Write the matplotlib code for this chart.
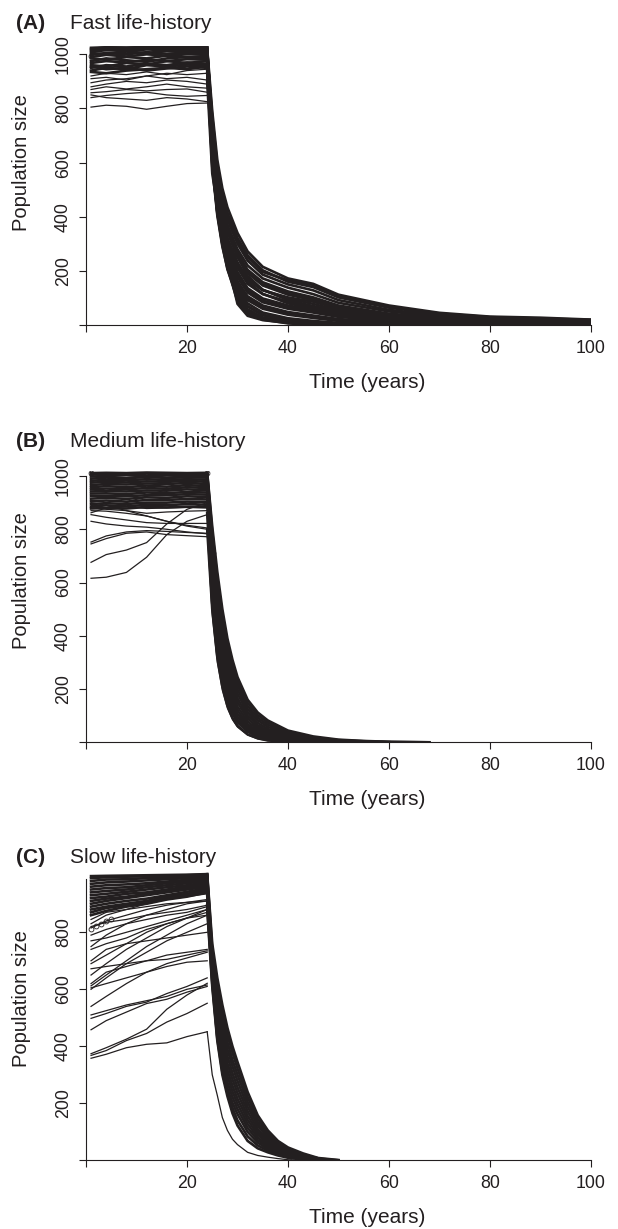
import matplotlib
matplotlib.use('Agg')
import matplotlib.pyplot as plt

plt.rcParams['font.family'] = ['Liberation Sans', 'DejaVu Sans']

INK = '#231f20'

# knot times (years)
t_pre = [1, 4, 8, 12, 16, 20, 24]
t_post_a = [24, 25, 26, 27, 28, 30, 32, 35, 40, 45, 50, 60, 70, 80, 90, 100]
t_post_b = [24, 25, 26, 27, 28, 29, 30, 32, 34, 36, 40, 45, 50, 55, 60, 68]
t_post_c = [24, 25, 26, 27, 28, 29, 30, 32, 34, 36, 38, 40, 43, 46, 50]

# (A) fast life-history, before the decline: scattered runs, then the dense band
pre_a_spread = [
    [805, 812, 808, 797, 808, 818, 820],
    [850, 840, 835, 830, 840, 835, 825],
    [840, 848, 855, 860, 850, 845, 848],
    [858, 862, 870, 865, 870, 872, 860],
    [870, 880, 872, 880, 890, 880, 875],
    [880, 890, 900, 895, 905, 900, 890],
    [895, 905, 910, 920, 910, 915, 905],
    [910, 915, 905, 920, 930, 925, 930],
    [920, 930, 925, 935, 925, 940, 945],
]
pre_a_band = [
    [935, 930, 940, 945, 950, 945, 955],
    [955, 945, 950, 940, 948, 955, 950],
    [940, 950, 945, 960, 955, 962, 960],
    [950, 960, 955, 965, 960, 970, 965],
    [960, 955, 968, 962, 975, 968, 975],
    [968, 975, 970, 980, 975, 982, 980],
    [975, 985, 978, 972, 985, 990, 985],
    [985, 980, 990, 985, 995, 988, 992],
    [990, 998, 992, 1000, 995, 1000, 998],
    [998, 1005, 1000, 1008, 1002, 1006, 1004],
    [1005, 1000, 1010, 1005, 1012, 1008, 1010],
    [1010, 1015, 1012, 1018, 1015, 1016, 1014],
    [1015, 1020, 1018, 1022, 1020, 1024, 1020],
    [1020, 1025, 1024, 1026, 1025, 1026, 1025],
    [1024, 1026, 1025, 1027, 1026, 1027, 1026],
]

# (A) after the decline starts
post_a = [
    [1020, 790, 610, 505, 435, 340, 272, 215, 172, 152, 112, 72, 45, 31, 27, 20],
    [1010, 770, 590, 485, 415, 322, 258, 202, 160, 140, 102, 64, 40, 28, 23, 18],
    [1000, 760, 575, 470, 400, 310, 250, 196, 165, 148, 108, 68, 42, 29, 24, 19],
    [1000, 745, 565, 460, 390, 300, 238, 186, 150, 128, 92, 56, 35, 25, 19, 15],
    [990, 725, 545, 440, 370, 280, 220, 172, 138, 114, 82, 50, 31, 21, 16, 12],
    [1015, 735, 550, 442, 368, 268, 204, 158, 124, 102, 72, 42, 26, 18, 13, 10],
    [940, 645, 472, 372, 302, 222, 166, 128, 102, 86, 60, 35, 20, 12, 9, 7],
    [980, 705, 520, 414, 342, 252, 192, 146, 112, 92, 64, 36, 22, 15, 11, 8],
    [1025, 705, 522, 422, 352, 252, 182, 130, 92, 70, 50, 28, 16, 10, 7, 5],
    [1005, 705, 510, 398, 322, 232, 172, 130, 98, 78, 54, 30, 18, 12, 8, 6],
    [960, 675, 485, 378, 302, 212, 152, 114, 86, 66, 46, 26, 15, 9, 6, 5],
    [985, 690, 500, 390, 315, 222, 160, 115, 80, 60, 40, 18, 9, 5, 3, 2],
    [1020, 695, 490, 372, 292, 196, 136, 98, 72, 56, 38, 20, 11, 7, 4, 3],
    [970, 655, 458, 346, 270, 176, 120, 84, 60, 46, 30, 15, 8, 4, 2, 1],
    [990, 655, 452, 336, 256, 162, 106, 72, 48, 35, 22, 10, 5, 2, 1, 0],
    [950, 625, 432, 316, 240, 146, 92, 60, 38, 26, 15, 6, 2, 0],
    [1000, 645, 442, 320, 236, 136, 80, 46, 25, 15, 8, 2, 0],
    [930, 605, 418, 302, 222, 122, 68, 36, 18, 10, 4, 0],
    [980, 615, 422, 302, 216, 112, 58, 28, 12, 5, 0],
    [1010, 625, 432, 312, 216, 96, 45, 20, 6, 1, 0],
    [960, 595, 412, 296, 206, 100, 52, 25, 10, 2, 0],
    [900, 560, 440, 335, 235, 78, 34, 18, 8, 3, 0],
    [1015, 720, 530, 425, 350, 260, 200, 150, 118, 96, 68, 38, 24, 16, 12, 9],
    [995, 680, 470, 355, 280, 186, 128, 90, 66, 50, 34, 17, 9, 5, 3, 2],
    [975, 640, 440, 325, 248, 152, 98, 64, 42, 30, 18, 8, 3, 1, 0],
    [1000, 600, 420, 310, 225, 105, 55, 25, 8, 2, 0],
    [970, 620, 430, 315, 228, 125, 70, 38, 18, 8, 3, 0],
    [945, 585, 405, 290, 210, 88, 42, 22, 12, 5, 1, 0],
]

# (B) medium life-history
pre_b_spread = [
    [616, 620, 638, 695, 780, 830, 855],
    [676, 705, 722, 750, 820, 875, 900],
    [745, 765, 785, 790, 780, 776, 772],
    [752, 775, 790, 795, 792, 788, 785],
    [830, 820, 812, 808, 800, 790, 783],
    [855, 845, 835, 825, 822, 822, 822],
    [870, 868, 860, 850, 830, 812, 800],
    [880, 875, 870, 860, 865, 868, 870],
    [900, 890, 870, 850, 830, 815, 805],
    [862, 880, 900, 925, 950, 970, 985],
    [890, 880, 885, 878, 880, 882, 880],
]
pre_b_band = [
    [878, 880, 878, 884, 882, 885, 884],
    [885, 890, 886, 892, 890, 895, 892],
    [895, 898, 895, 900, 900, 904, 902],
    [905, 908, 904, 910, 910, 914, 912],
    [915, 918, 914, 920, 918, 924, 921],
    [925, 926, 924, 928, 928, 932, 930],
    [934, 935, 932, 938, 936, 940, 938],
    [942, 944, 942, 946, 945, 950, 946],
    [950, 953, 950, 955, 952, 958, 955],
    [958, 962, 958, 964, 960, 966, 962],
    [966, 970, 968, 972, 970, 974, 970],
    [975, 978, 976, 980, 978, 982, 978],
    [982, 986, 984, 988, 985, 988, 986],
    [990, 994, 992, 996, 993, 995, 994],
    [998, 1000, 1003, 999, 1002, 1000, 1001],
    [1005, 1008, 1006, 1009, 1007, 1008, 1006],
    [1011, 1012, 1011, 1013, 1012, 1011, 1012],
]

post_b = [
    [1012, 810, 640, 500, 390, 310, 245, 160, 112, 82, 44, 22, 10, 5, 2, 0],
    [1010, 790, 615, 480, 372, 292, 230, 148, 102, 74, 39, 18, 8, 4, 1, 0],
    [1005, 770, 590, 455, 352, 275, 214, 136, 92, 66, 34, 15, 6, 3, 1],
    [1000, 750, 565, 430, 330, 256, 198, 124, 83, 58, 29, 12, 5, 2],
    [995, 725, 540, 405, 308, 236, 182, 112, 73, 50, 24, 10, 3, 1],
    [990, 700, 512, 380, 286, 216, 165, 100, 64, 43, 20, 8, 2, 0],
    [985, 675, 485, 355, 265, 198, 150, 89, 56, 37, 16, 6, 1],
    [975, 650, 458, 330, 244, 180, 134, 78, 48, 31, 13, 4, 0],
    [965, 625, 432, 307, 224, 163, 120, 68, 41, 26, 10, 3],
    [950, 600, 405, 284, 205, 148, 107, 60, 35, 21, 8, 2],
    [930, 575, 380, 262, 187, 133, 95, 52, 29, 17, 6, 1],
    [900, 545, 355, 242, 170, 120, 84, 45, 25, 14, 4, 0],
    [860, 520, 335, 225, 155, 108, 75, 40, 21, 11, 3, 0],
    [800, 500, 320, 210, 138, 92, 62, 30, 15, 7, 2, 0],
]
post_b_low = [
    [790, 480, 300, 195, 128, 85, 57, 27, 13, 6, 1, 0],
]

# (C) slow life-history
pre_c_spread = [
    [358, 372, 395, 407, 412, 434, 451],
    [368, 385, 420, 445, 485, 515, 551],
    [374, 395, 425, 460, 530, 580, 621],
    [458, 490, 520, 550, 565, 590, 610],
    [498, 515, 540, 555, 585, 610, 640],
    [510, 525, 545, 560, 575, 600, 615],
    [540, 575, 620, 660, 690, 710, 730],
    [600, 640, 690, 730, 770, 800, 830],
    [605, 620, 640, 660, 680, 695, 700],
    [612, 650, 700, 750, 790, 830, 860],
    [620, 660, 680, 700, 720, 730, 740],
    [650, 690, 740, 780, 820, 850, 870],
    [672, 680, 690, 700, 705, 720, 735],
    [690, 720, 760, 800, 830, 850, 880],
    [700, 740, 760, 770, 780, 790, 800],
    [740, 760, 780, 810, 830, 850, 860],
    [750, 790, 830, 860, 880, 900, 910],
    [770, 780, 800, 820, 840, 860, 880],
    [790, 810, 830, 845, 860, 870, 890],
    [815, 840, 860, 880, 895, 905, 910],
    [820, 835, 845, 860, 870, 880, 895],
    [830, 860, 880, 900, 915, 925, 935],
    [845, 870, 880, 890, 900, 905, 915],
]
pre_c_band = [
    [860, 875, 890, 900, 915, 925, 940],
    [870, 885, 895, 905, 920, 930, 945],
    [880, 890, 900, 910, 925, 935, 950],
    [890, 900, 910, 918, 930, 942, 955],
    [900, 910, 920, 930, 940, 950, 960],
    [910, 918, 925, 935, 945, 955, 965],
    [920, 925, 935, 940, 950, 960, 970],
    [930, 935, 942, 950, 958, 965, 975],
    [940, 945, 950, 958, 965, 972, 980],
    [950, 955, 958, 965, 972, 978, 985],
    [960, 965, 968, 972, 978, 984, 990],
    [970, 975, 978, 982, 986, 990, 995],
    [980, 985, 986, 990, 992, 995, 998],
    [990, 993, 995, 996, 998, 1000, 1002],
    [997, 998, 999, 1000, 1001, 1002, 1004],
]

post_c = [
    [1004, 760, 640, 545, 465, 400, 345, 240, 158, 105, 68, 45, 24, 8, 1],
    [1000, 740, 615, 520, 440, 378, 322, 222, 145, 96, 62, 40, 20, 6, 0],
    [995, 720, 590, 495, 415, 352, 300, 205, 133, 88, 56, 36, 17, 5],
    [990, 700, 565, 468, 390, 330, 278, 188, 122, 80, 50, 32, 14, 4],
    [980, 690, 540, 440, 365, 306, 256, 172, 110, 72, 45, 28, 12, 3],
    [970, 675, 515, 415, 340, 284, 236, 156, 100, 65, 40, 24, 10, 2],
    [960, 660, 492, 390, 317, 262, 216, 142, 90, 58, 35, 21, 8, 1],
    [950, 650, 470, 365, 295, 242, 198, 128, 80, 52, 31, 18, 7, 1],
    [930, 640, 452, 342, 273, 222, 180, 114, 71, 46, 27, 15, 6, 0],
    [910, 630, 436, 322, 252, 202, 162, 100, 62, 40, 24, 13, 5],
    [895, 620, 428, 310, 238, 184, 140, 84, 52, 34, 20, 11, 4],
    [880, 610, 420, 300, 225, 165, 122, 68, 42, 28, 17, 9, 3, 0],
]
post_c_low = [
    [451, 300, 228, 150, 105, 74, 55, 28, 17, 11, 6, 2, 0],
]

# open circles (extinctions / starts)
circ_a_t = [1, 44, 45.5, 47, 48.5, 50]
circ_a_v = [995, 2, 2, 2, 2, 2]
circ_b_t = [1, 24, 25.2, 42, 43.5, 45, 46.5, 48]
circ_b_v = [1012, 1012, 710, 2, 2, 2, 2, 2]
circ_c_t = [1, 2, 3, 4, 5, 41, 42.5, 44, 45.5]
circ_c_v = [812, 822, 830, 838, 846, 3, 3, 3, 3]

W, H = 618, 1229


def rect(left, top, right, bottom):
    return [left / W, 1 - bottom / H, (right - left) / W, (bottom - top) / H]


fig = plt.figure(figsize=(W / 100, H / 100), dpi=100)

panels = [
    ('(A)', 'Fast life-history', rect(86, 46.2, 591, 325), 1030, 1000,
     pre_a_spread, pre_a_band, t_post_a, post_a, [], circ_a_t, circ_a_v, 29, 325),
    ('(B)', 'Medium life-history', rect(86, 470.7, 591, 742.3), 1020, 1000,
     pre_b_spread, pre_b_band, t_post_b, post_b, post_b_low, circ_b_t, circ_b_v, 447, 742.3),
    ('(C)', 'Slow life-history', rect(86, 871.0, 591, 1160.3), 1015, 988,
     pre_c_spread, pre_c_band, t_post_c, post_c, post_c_low, circ_c_t, circ_c_v, 863, 1160.3),
]

for (letter, title, r, ytop, spine_top, spread, band, t_post, post, low,
     ct, cv, base, ybot) in panels:
    ax = fig.add_axes(r)
    for v in spread:
        ax.plot(t_pre, v, color=INK, lw=0.9)
    for v in band:
        ax.plot(t_pre, v, color=INK, lw=1.9)
    for v in post:
        ax.plot(t_post[:len(v)], v, color=INK, lw=1.9)
    for v in low:
        ax.plot(t_post[:len(v)], v, color=INK, lw=0.9)
    ax.plot(ct, cv, 'o', ms=3.5, mfc='none', mec=INK, mew=0.6)

    ax.set_xlim(0, 100)
    ax.set_ylim(0, ytop)
    for s in ['top', 'right']:
        ax.spines[s].set_visible(False)
    ax.spines['left'].set_bounds(0, spine_top)
    ax.spines['bottom'].set_bounds(0, 100)
    for s in ['left', 'bottom']:
        ax.spines[s].set_linewidth(0.8)
        ax.spines[s].set_color(INK)

    ax.set_xticks([0, 20, 40, 60, 80, 100])
    ax.set_xticklabels(['', '20', '40', '60', '80', '100'])
    yt = [y for y in [0, 200, 400, 600, 800, 1000] if y <= spine_top]
    ax.set_yticks(yt)
    ax.set_yticklabels([''] + [str(y) for y in yt[1:]], rotation=90, va='center')
    ax.tick_params(direction='out', length=5, width=0.8, color=INK,
                   labelsize=12.8, labelcolor=INK)
    ax.tick_params(axis='x', pad=5.5)
    ax.tick_params(axis='y', pad=5)

    fig.text(16 / W, 1 - base / H, letter, fontsize=15, fontweight='bold',
             color=INK, va='baseline', ha='left')
    fig.text(70 / W, 1 - base / H, title, fontsize=15, color=INK,
             va='baseline', ha='left')
    fig.text(367 / W, 1 - (ybot + 63) / H, 'Time (years)', fontsize=15,
             color=INK, va='baseline', ha='center')
    fig.text(22 / W, 1 - (ybot - 162) / H, 'Population size', fontsize=14.5,
             color=INK, rotation=90, va='center', ha='center')

plt.savefig('out.png', dpi=100)
